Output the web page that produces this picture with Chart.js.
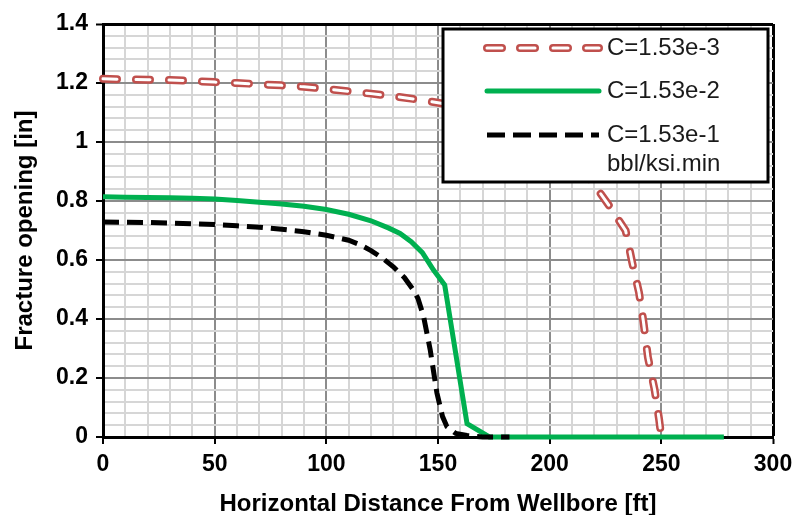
<!DOCTYPE html>
<html>
<head>
    <title>Fracture opening</title>
    <script src="https://cdn.jsdelivr.net/npm/chart.js"></script>
    <style>
        body {
            margin: 0;
            background-color: #ffffff;
        }
        #wrap {
            width: 795px;
            height: 515px;
        }
    </style>
</head>
<body>
    <div id="wrap">
        <canvas id="openingChart" width="795" height="515"></canvas>
    </div>

    <script>
        // C=1.53e-3
        var redX = [0, 10, 20, 30, 40, 50, 60, 70, 80, 90, 100, 110, 120, 130, 140, 150, 160, 170, 180, 190, 200, 210, 220, 227, 234, 237, 240, 242, 244, 247, 249, 250];
        var redY = [1.214, 1.212, 1.211, 1.210, 1.207, 1.203, 1.200, 1.196, 1.192, 1.187, 1.180, 1.172, 1.164, 1.155, 1.145, 1.133, 1.12, 1.10, 1.075, 1.04, 0.995, 0.935, 0.855, 0.78, 0.70, 0.59, 0.49, 0.39, 0.27, 0.16, 0.06, 0.0];

        // C=1.53e-2
        var greenX = [0, 10, 20, 30, 40, 50, 60, 70, 80, 90, 100, 110, 120, 128, 133, 138, 143, 148, 153, 163, 173, 200, 250, 278];
        var greenY = [0.814, 0.813, 0.812, 0.811, 0.809, 0.807, 0.802, 0.796, 0.790, 0.782, 0.771, 0.755, 0.733, 0.708, 0.690, 0.662, 0.625, 0.566, 0.515, 0.045, 0, 0, 0, 0];

        // C=1.53e-1
        var blackX = [0, 10, 20, 30, 40, 50, 60, 70, 80, 90, 100, 110, 115, 120, 125, 130, 135, 139, 141, 143.5, 146.5, 149.5, 152, 154, 158, 163, 170, 182];
        var blackY = [0.729, 0.728, 0.727, 0.725, 0.723, 0.720, 0.716, 0.711, 0.704, 0.696, 0.684, 0.667, 0.652, 0.632, 0.607, 0.577, 0.540, 0.498, 0.470, 0.41, 0.296, 0.15, 0.07, 0.035, 0.012, 0.005, 0, 0];

        var legendLabels = ['C=1.53e-3', 'C=1.53e-2', 'C=1.53e-1', 'bbl/ksi.min'];

        var fontFamily = '"Liberation Sans", Arial, Helvetica, sans-serif';
        var redColor = '#c0504d';
        var greenColor = '#00b050';

        function toPoints(xs, ys) {
            return xs.map(function (x, i) { return { x: x, y: ys[i] }; });
        }

        function isMajorX(v) { return v % 50 === 0; }
        function isMajorY(v) { return Math.abs(v * 5 - Math.round(v * 5)) < 1e-9; }

        // legend drawn by hand: boxed, top right, with the unit on a second line
        var legendBox = {
            id: 'legendBox',
            afterDraw: function (chart) {
                var ctx = chart.ctx;
                var a = chart.chartArea;
                var x0 = a.right - 330, y0 = a.top + 5, w = 325, h = 153;
                var sx1 = a.right - 286, sx2 = a.right - 174, tx = a.right - 166;
                var rows = [a.top + 24, a.top + 67, a.top + 111, a.top + 140];

                ctx.save();
                ctx.fillStyle = '#ffffff';
                ctx.fillRect(x0, y0, w, h);
                ctx.lineWidth = 3;
                ctx.strokeStyle = '#000000';
                ctx.strokeRect(x0, y0, w, h);

                function sample(y, color, width, dash, cap) {
                    ctx.beginPath();
                    ctx.moveTo(sx1, y);
                    ctx.lineTo(sx2, y);
                    ctx.strokeStyle = color;
                    ctx.lineWidth = width;
                    ctx.setLineDash(dash);
                    ctx.lineCap = cap;
                    ctx.stroke();
                }
                sample(rows[0], redColor, 8, [15, 18], 'round');
                sample(rows[0], '#ffffff', 3, [15, 18], 'round');
                sample(rows[1], greenColor, 5, [], 'round');
                sample(rows[2], '#000000', 5, [18, 8], 'butt');
                ctx.setLineDash([]);

                ctx.fillStyle = '#1a1a1a';
                ctx.font = '24px ' + fontFamily;
                ctx.textAlign = 'left';
                ctx.textBaseline = 'middle';
                for (var i = 0; i < legendLabels.length; i++) {
                    ctx.fillText(legendLabels[i], tx, rows[i]);
                }
                ctx.restore();
            }
        };

        var openingChart = new Chart(document.getElementById('openingChart').getContext('2d'), {
            type: 'line',
            data: {
                datasets: [{
                    label: legendLabels[2],
                    data: toPoints(blackX, blackY),
                    borderColor: '#000000',
                    borderWidth: 5,
                    borderDash: [16, 8],
                    pointRadius: 0,
                    tension: 0,
                    clip: false,
                    order: 1
                }, {
                    label: legendLabels[1],
                    data: toPoints(greenX, greenY),
                    borderColor: greenColor,
                    borderWidth: 5,
                    pointRadius: 0,
                    tension: 0,
                    clip: false,
                    order: 2
                }, {
                    label: legendLabels[0] + ' inner',
                    data: toPoints(redX, redY),
                    borderColor: '#ffffff',
                    borderWidth: 3,
                    borderDash: [14, 19],
                    borderCapStyle: 'round',
                    pointRadius: 0,
                    tension: 0,
                    clip: false,
                    order: 3
                }, {
                    label: legendLabels[0],
                    data: toPoints(redX, redY),
                    borderColor: redColor,
                    borderWidth: 8,
                    borderDash: [14, 19],
                    borderCapStyle: 'round',
                    pointRadius: 0,
                    tension: 0,
                    clip: false,
                    order: 4
                }]
            },
            options: {
                responsive: false,
                animation: false,
                layout: { padding: { top: 24, right: 22, left: 0, bottom: 0 } },
                plugins: {
                    legend: { display: false },
                    tooltip: { enabled: false }
                },
                scales: {
                    x: {
                        type: 'linear',
                        min: 0,
                        max: 300,
                        afterFit: function (scale) {
                            scale.height = 78;
                            scale.paddingLeft = 0;
                            scale.paddingRight = 0;
                        },
                        border: { color: '#000000', width: 3 },
                        grid: {
                            color: function (c) {
                                if (c.tick.value === 300) return '#000000';
                                return isMajorX(c.tick.value) ? '#8c8c8c' : '#d6d6d6';
                            },
                            lineWidth: function (c) {
                                return c.tick.value === 300 ? 3 : 2;
                            },
                            tickColor: function (c) {
                                return isMajorX(c.tick.value) ? '#000000' : 'rgba(0,0,0,0)';
                            },
                            tickLength: 7,
                            tickWidth: 2
                        },
                        ticks: {
                            stepSize: 10,
                            autoSkip: false,
                            maxRotation: 0,
                            padding: 9,
                            color: '#000000',
                            font: { family: fontFamily, size: 23, weight: 'bold', lineHeight: 1 },
                            callback: function (v) { return isMajorX(v) ? String(v) : ''; }
                        },
                        title: {
                            display: true,
                            text: 'Horizontal Distance From Wellbore [ft]',
                            color: '#000000',
                            padding: { top: 0, bottom: 0 },
                            font: { family: fontFamily, size: 24, weight: 'bold', lineHeight: 0.9 }
                        }
                    },
                    y: {
                        type: 'linear',
                        min: 0,
                        max: 1.4,
                        afterFit: function (scale) {
                            scale.width = 103;
                            scale.paddingTop = 0;
                            scale.paddingBottom = 0;
                        },
                        border: { color: '#000000', width: 3 },
                        grid: {
                            color: function (c) {
                                if (Math.abs(c.tick.value - 1.4) < 1e-9) return '#000000';
                                return isMajorY(c.tick.value) ? '#8c8c8c' : '#d6d6d6';
                            },
                            lineWidth: function (c) {
                                return Math.abs(c.tick.value - 1.4) < 1e-9 ? 3 : 2;
                            },
                            tickColor: function (c) {
                                return isMajorY(c.tick.value) ? '#000000' : 'rgba(0,0,0,0)';
                            },
                            tickLength: 7,
                            tickWidth: 2
                        },
                        ticks: {
                            stepSize: 0.04,
                            autoSkip: false,
                            padding: 8,
                            color: '#000000',
                            font: { family: fontFamily, size: 23, weight: 'bold', lineHeight: 1 },
                            callback: function (v) { return isMajorY(v) ? String(+v.toFixed(1)) : ''; }
                        },
                        title: {
                            display: true,
                            text: 'Fracture opening [in]',
                            color: '#000000',
                            padding: { top: 13, bottom: 0 },
                            font: { family: fontFamily, size: 24, weight: 'bold', lineHeight: 1 }
                        }
                    }
                }
            },
            plugins: [legendBox]
        });
    </script>
</body>
</html>
